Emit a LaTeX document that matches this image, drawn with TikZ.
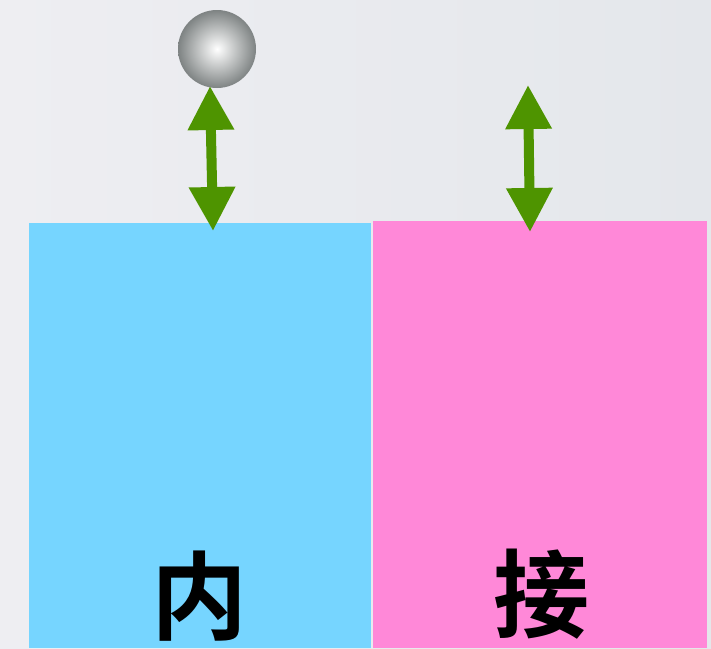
\documentclass[tikz,border=0pt]{standalone}
\usepackage{fontspec}
\newfontfamily\cjk{Noto Sans CJK SC Bold}
\usetikzlibrary{arrows.meta}
\definecolor{bgl}{HTML}{EEEEF2}
\definecolor{bgr}{HTML}{E4E7EB}
\definecolor{boxblue}{HTML}{76D5FF}
\definecolor{boxpink}{HTML}{FF88D8}
\definecolor{arrgreen}{HTML}{4E9400}
\definecolor{ballgray}{HTML}{7E8383}
\tikzset{
  panel/.style={rectangle, inner sep=0pt, anchor=north west},
  bigchar/.style={font=\cjk\fontsize{96}{96}\selectfont, text=black, inner sep=0pt},
  bounce/.style={draw=arrgreen, line width=10pt,
    {Triangle[width=44pt,length=44pt]}-{Triangle[width=44pt,length=44pt]}},
}
\begin{document}
\begin{tikzpicture}[x=1pt,y=-1pt]
\useasboundingbox (0,0) rectangle (711,648);
\fill[left color=bgl, right color=bgr] (0,0) rectangle (711,648);
\node[panel, fill=boxblue, minimum width=342pt, minimum height=425pt] (inner) at (29,223) {};
\node[panel, fill=boxpink, minimum width=334pt, minimum height=427pt] (outer) at (373,221) {};
\node[circle, minimum size=78pt, inner sep=0pt, shading=radial, inner color=white, outer color=ballgray] (ball) at (217,49) {};
\node[bigchar] (t1) at (199,596) {内};
\node[bigchar] (t2) at (541,594) {接};
\coordinate (a1t) at (210,86);
\coordinate (a1b) at (213,231);
\coordinate (a2t) at (528,85);
\coordinate (a2b) at (530,232);
\draw[bounce] (a1t) -- (a1b);
\draw[bounce] (a2t) -- (a2b);
\end{tikzpicture}
\end{document}
